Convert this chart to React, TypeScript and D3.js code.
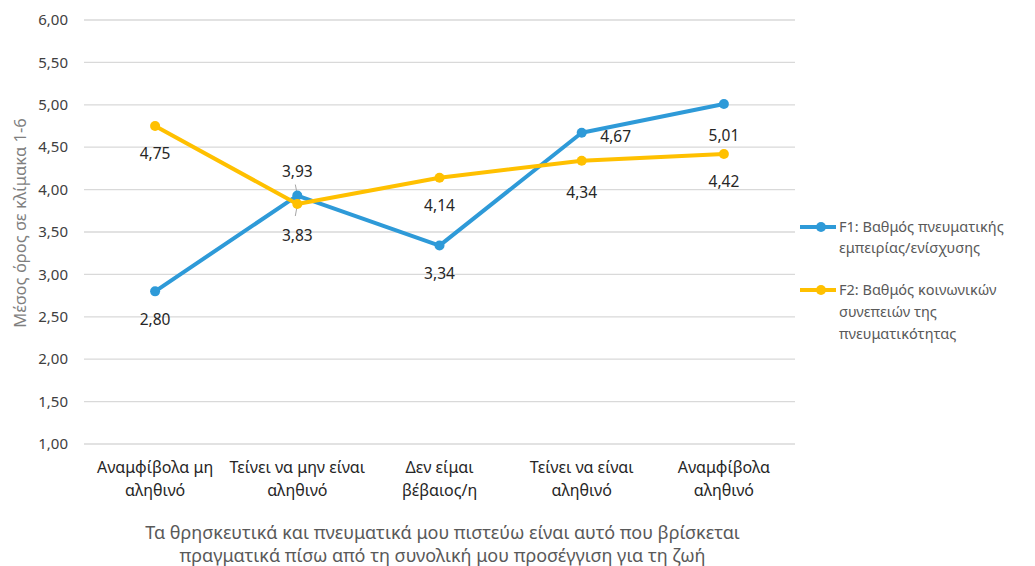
import React from "react";
import * as d3 from "d3";

const categories = [
  ["Αναμφίβολα μη", "αληθινό"],
  ["Τείνει να μην είναι", "αληθινό"],
  ["Δεν είμαι", "βέβαιος/η"],
  ["Τείνει να είναι", "αληθινό"],
  ["Αναμφίβολα", "αληθινό"],
];
const f1Values = [2.8, 3.93, 3.34, 4.67, 5.01];
const f2Values = [4.75, 3.83, 4.14, 4.34, 4.42];
const yTicks = [1, 1.5, 2, 2.5, 3, 3.5, 4, 4.5, 5, 5.5, 6];
const f1Name = ["F1: Βαθμός πνευματικής", "εμπειρίας/ενίσχυσης"];
const f2Name = ["F2: Βαθμός κοινωνικών", "συνεπειών της", "πνευματικότητας"];
const yTitle = "Μέσος όρος σε κλίμακα 1-6";
const xTitle = [
  "Τα θρησκευτικά και πνευματικά μου πιστεύω είναι αυτό που βρίσκεται",
  "πραγματικά πίσω από τη συνολική μου προσέγγιση για τη ζωή",
];
// label placement offsets (dx, dy) relative to point
const f1LabelPos = [[0, 28], [0, -24], [0, 28], [34, 4], [0, 32]];
const f2LabelPos = [[0, 28], [0, 32], [0, 28], [0, 32], [0, 28]];

const BLUE = "#2E9AD8";
const YELLOW = "#FFC000";
const FONT = "'Noto Sans', 'Open Sans', sans-serif";

export default function App() {
  const W = 1035, H = 566;
  const left = 84, right = 795, top = 20, bottom = 444;
  const x = d3.scaleBand<number>().domain(d3.range(categories.length)).range([left, right]);
  const y = d3.scaleLinear().domain([1, 6]).range([bottom, top]);
  const cx = (i: number) => (x(i) as number) + x.bandwidth() / 2;
  const line = d3.line<number>().x((_, i) => cx(i)).y((d) => y(d));
  const fmt = (v: number) => v.toFixed(2).replace(".", ",");

  return (
    <svg width={W} height={H} style={{ position: "absolute", left: 0, top: 0, background: "#fff" }} fontFamily={FONT}>
      {yTicks.map((t) => (
        <g key={t}>
          <line x1={left} x2={right} y1={y(t)} y2={y(t)} stroke="#d9d9d9" strokeWidth={1.3} />
          <text x={68} y={y(t)} dy="0.35em" textAnchor="end" fontSize={15} fill="#404040">{fmt(t)}</text>
        </g>
      ))}
      <text transform={`translate(20,223) rotate(-90)`} dy="0.35em" textAnchor="middle" fontSize={16.5} fill="#7f7f7f">{yTitle}</text>
      {categories.map((c, i) => (
        <text key={i} x={cx(i)} y={467} dy="0.35em" textAnchor="middle" fontSize={16} fill="#262626">
          {c.map((l, j) => (
            <tspan key={j} x={cx(i)} dy={j === 0 ? "0.35em" : 23}>{l}</tspan>
          ))}
        </text>
      ))}
      <text x={(left + right) / 2} y={533} textAnchor="middle" fontSize={18} fill="#595959">
        {xTitle.map((l, j) => (
          <tspan key={j} x={(left + right) / 2 + 3} dy={j === 0 ? "0.35em" : 23}>{l}</tspan>
        ))}
      </text>
      {/* leader lines */}
      <line x1={cx(1) - 2} y1={y(3.93) - 11} x2={cx(1)} y2={y(3.93) - 1} stroke="#a6a6a6" strokeWidth={1} />
      <line x1={cx(1)} y1={y(3.83) + 1} x2={cx(1) - 2} y2={y(3.83) + 12} stroke="#a6a6a6" strokeWidth={1} />
      <path d={line(f1Values) as string} fill="none" stroke={BLUE} strokeWidth={4} strokeLinejoin="round" />
      {f1Values.map((v, i) => <circle key={i} cx={cx(i)} cy={y(v)} r={5} fill={BLUE} />)}
      <path d={line(f2Values) as string} fill="none" stroke={YELLOW} strokeWidth={4} strokeLinejoin="round" />
      {f2Values.map((v, i) => <circle key={i} cx={cx(i)} cy={y(v)} r={5} fill={YELLOW} />)}
      {f1Values.map((v, i) => (
        <text key={i} x={cx(i) + f1LabelPos[i][0]} y={y(v) + f1LabelPos[i][1]} dy="0.35em" textAnchor="middle" fontSize={15.5} fill="#262626">{fmt(v)}</text>
      ))}
      {f2Values.map((v, i) => (
        <text key={i} x={cx(i) + f2LabelPos[i][0]} y={y(v) + f2LabelPos[i][1]} dy="0.35em" textAnchor="middle" fontSize={15.5} fill="#262626">{fmt(v)}</text>
      ))}
      {/* legend */}
      <g>
        <line x1={800} x2={836} y1={227} y2={227} stroke={BLUE} strokeWidth={4} />
        <circle cx={821} cy={227} r={5} fill={BLUE} />
        <text x={839} y={227} fontSize={14.5} fill="#595959">
          {f1Name.map((l, j) => <tspan key={j} x={839} dy={j === 0 ? "0.35em" : 21}>{l}</tspan>)}
        </text>
        <line x1={800} x2={836} y1={290} y2={290} stroke={YELLOW} strokeWidth={4} />
        <circle cx={821} cy={290} r={5} fill={YELLOW} />
        <text x={839} y={290} fontSize={14.5} fill="#595959">
          {f2Name.map((l, j) => <tspan key={j} x={839} dy={j === 0 ? "0.35em" : 22}>{l}</tspan>)}
        </text>
      </g>
    </svg>
  );
}
